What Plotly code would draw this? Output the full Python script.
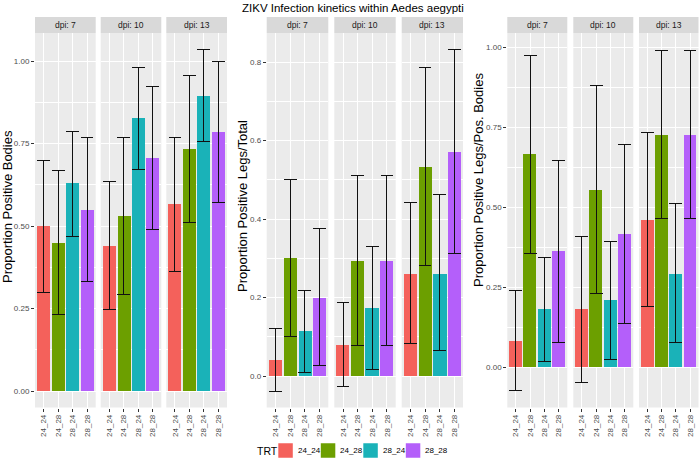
import plotly.graph_objects as go

# ---------------- data ----------------
trt = ["24_24", "24_28", "28_24", "28_28"]
trt_colors = ["#F4615B", "#6C9F00", "#1AB2B8", "#B45FFA"]
dpi_labels = ["dpi: 7", "dpi: 10", "dpi: 13"]

# Panel 1: Proportion Positive Bodies
bodies_val = [[0.50, 0.45, 0.629, 0.55], [0.439, 0.53, 0.826, 0.705], [0.566, 0.733, 0.894, 0.786]]
bodies_low = [[0.30, 0.233, 0.469, 0.333], [0.247, 0.293, 0.672, 0.49], [0.362, 0.512, 0.757, 0.572]]
bodies_high = [[0.70, 0.667, 0.788, 0.767], [0.635, 0.769, 0.981, 0.922], [0.769, 0.957, 1.034, 1.0]]

# Panel 2: Proportion Positive Legs/Total
legs_val = [[0.042, 0.30, 0.114, 0.20], [0.08, 0.294, 0.173, 0.294], [0.261, 0.532, 0.261, 0.571]]
legs_low = [[-0.038, 0.10, 0.009, 0.026], [-0.026, 0.078, 0.018, 0.078], [0.082, 0.281, 0.066, 0.313]]
legs_high = [[0.122, 0.502, 0.219, 0.376], [0.187, 0.511, 0.329, 0.511], [0.441, 0.786, 0.462, 0.831]]

# Panel 3: Proportion Positive Legs/Pos. Bodies
lpb_val = [[0.083, 0.666, 0.181, 0.363], [0.181, 0.553, 0.21, 0.416], [0.461, 0.727, 0.293, 0.727]]
lpb_low = [[-0.073, 0.357, 0.02, 0.078], [-0.048, 0.23, 0.026, 0.137], [0.19, 0.464, 0.077, 0.464]]
lpb_high = [[0.239, 0.973, 0.342, 0.647], [0.41, 0.88, 0.394, 0.695], [0.733, 0.99, 0.512, 0.99]]

y_titles = ["Proportion Positive Bodies", "Proportion Positive Legs/Total",
            "Proportion Positive Legs/Pos. Bodies"]
y_tickvals = [[0, 0.25, 0.5, 0.75, 1.0], [0, 0.2, 0.4, 0.6, 0.8], [0, 0.25, 0.5, 0.75, 1.0]]
y_ticktext = [["0.00", "0.25", "0.50", "0.75", "1.00"], ["0.0", "0.2", "0.4", "0.6", "0.8"],
              ["0.00", "0.25", "0.50", "0.75", "1.00"]]
title_text = "ZIKV Infection kinetics within Aedes aegypti"

# ---------------- layout geometry (pixels) ----------------
W, H = 700, 460
FONT = "Liberation Sans, Arial, Helvetica, sans-serif"
facet_x = [
    [(35.0, 95.7), (100.7, 161.3), (166.3, 227.0)],
    [(266.7, 328.3), (334.3, 395.7), (401.7, 463.0)],
    [(507.3, 567.3), (573.3, 633.3), (639.0, 698.5)],
]
strip_top, strip_bot, plot_bot = 17.0, 33.0, 407.5
y_ranges = [[-0.05, 1.085], [-0.08, 0.874], [-0.125, 1.044]]
minor_dticks = [0.125, 0.1, 0.125]
ytitle_pos = [(8, 207), (242, 206), (479, 180)]


def px(x):
    return x / W


def py(y):
    return 1 - y / H


panels = [(bodies_val, bodies_low, bodies_high), (legs_val, legs_low, legs_high),
          (lpb_val, lpb_low, lpb_high)]

fig = go.Figure()
layout = {}
shapes = []
annotations = []

k = 0
for p, (vals, lows, highs) in enumerate(panels):
    for f in range(3):
        k += 1
        xa = "x" if k == 1 else f"x{k}"
        ya = "y" if k == 1 else f"y{k}"
        v = vals[f]
        up = [h - a for h, a in zip(highs[f], v)]
        dn = [a - l for a, l in zip(v, lows[f])]
        fig.add_trace(go.Bar(
            x=trt, y=v, xaxis=xa, yaxis=ya,
            marker=dict(color=trt_colors, line=dict(width=0)),
            width=0.9,
            error_y=dict(type="data", symmetric=False, array=up, arrayminus=dn,
                         color="#111111", thickness=1, width=6.4),
            showlegend=False, hoverinfo="skip",
        ))
        x0, x1 = facet_x[p][f]
        first = f == 0
        layout["xaxis" if k == 1 else f"xaxis{k}"] = dict(
            domain=[px(x0), px(x1)], anchor=ya, type="category",
            categoryorder="array", categoryarray=trt, range=[-0.6, 3.6],
            showgrid=True, gridcolor="white", gridwidth=1,
            ticks="outside", ticklen=3, tickcolor="#333333", tickwidth=1,
            tickangle=-90, tickfont=dict(size=8, color="#4D4D4D", family=FONT),
            showline=False, zeroline=False, fixedrange=True,
        )
        layout["yaxis" if k == 1 else f"yaxis{k}"] = dict(
            domain=[py(plot_bot), py(strip_bot)], anchor=xa,
            range=y_ranges[p], tickvals=y_tickvals[p], ticktext=y_ticktext[p],
            showticklabels=first, ticks="outside" if first else "",
            ticklen=3, tickcolor="#333333", tickwidth=1,
            tickfont=dict(size=8, color="#4D4D4D", family=FONT),
            showgrid=True, gridcolor="white", gridwidth=1,
            minor=dict(dtick=minor_dticks[p], tick0=0, showgrid=True,
                       gridcolor="white", gridwidth=0.5, ticks=""),
            showline=False, zeroline=False, fixedrange=True,
        )
        # facet strip
        shapes.append(dict(type="rect", xref="paper", yref="paper",
                           x0=px(x0), x1=px(x1), y0=py(strip_bot), y1=py(strip_top),
                           fillcolor="#D9D9D9", line=dict(width=0), layer="below"))
        annotations.append(dict(text=dpi_labels[f], xref="paper", yref="paper",
                                x=px((x0 + x1) / 2), y=py((strip_top + strip_bot) / 2),
                                showarrow=False, xanchor="center", yanchor="middle",
                                font=dict(size=8.5, color="#1A1A1A", family=FONT)))
    # y-axis title
    tx, ty = ytitle_pos[p]
    annotations.append(dict(text=y_titles[p], xref="paper", yref="paper",
                            x=px(tx), y=py(ty), textangle=-90, showarrow=False,
                            xanchor="center", yanchor="middle",
                            font=dict(size=13, color="black", family=FONT)))

# overall title
annotations.append(dict(text=title_text, xref="paper", yref="paper",
                        x=px(352.5), y=py(8), showarrow=False,
                        xanchor="center", yanchor="middle",
                        font=dict(size=11.5, color="black", family=FONT)))

# legend (bottom, manual)
annotations.append(dict(text="TRT", xref="paper", yref="paper", x=px(255), y=py(450.5),
                        showarrow=False, xanchor="left", yanchor="middle",
                        font=dict(size=10.5, color="black", family=FONT)))
key_x0, key_step, key_size, key_yc = 278.3, 42.5, 14.5, 450.5
for i, (name, col) in enumerate(zip(trt, trt_colors)):
    kx = key_x0 + i * key_step
    shapes.append(dict(type="rect", xref="paper", yref="paper",
                       x0=px(kx), x1=px(kx + key_size),
                       y0=py(key_yc + key_size / 2), y1=py(key_yc - key_size / 2),
                       fillcolor=col, line=dict(width=0)))
    annotations.append(dict(text=name, xref="paper", yref="paper",
                            x=px(kx + key_size + 3), y=py(key_yc), showarrow=False,
                            xanchor="left", yanchor="middle",
                            font=dict(size=8, color="black", family=FONT)))

fig.update_layout(
    width=W, height=H, margin=dict(l=0, r=0, t=0, b=0),
    paper_bgcolor="white", plot_bgcolor="#EBEBEB",
    shapes=shapes, annotations=annotations, showlegend=False,
    bargap=0, font=dict(family=FONT),
    **layout,
)

fig.write_html("out.html", config={"displayModeBar": False},
               post_script="document.body.style.margin='0';document.body.style.padding='0';")
